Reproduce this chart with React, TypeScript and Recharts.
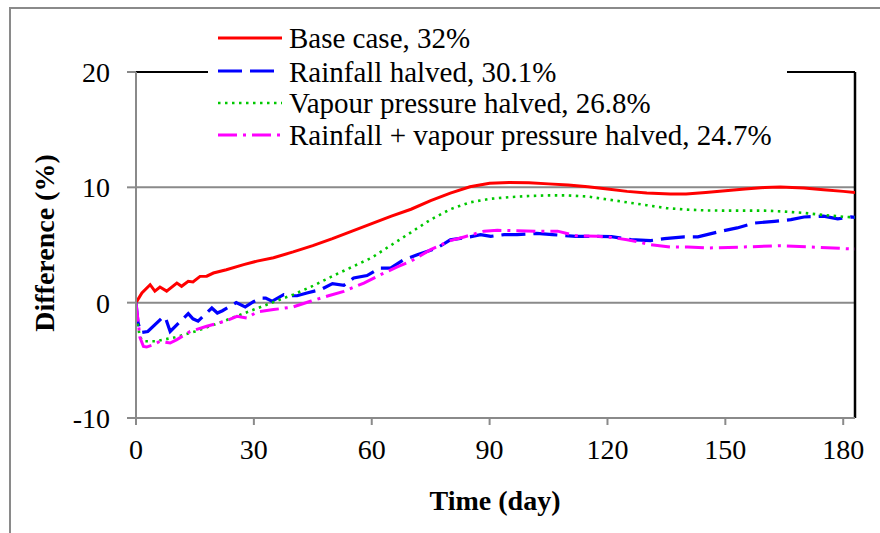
import React from 'react';
import { LineChart, Line, XAxis, YAxis, ReferenceLine, Label } from 'recharts';

// ---- data ----
const xTicks = [0, 30, 60, 90, 120, 150, 180];
const yTicks = [-10, 0, 10, 20];

const seriesNames = [
  'Base case, 32%',
  'Rainfall halved, 30.1%',
  'Vapour pressure halved, 26.8%',
  'Rainfall + vapour pressure halved, 24.7%',
];

const baseDays = [0, 1.5, 3.6, 4.8, 6.1, 7.8, 10.4, 11.6, 13.3, 14.5, 16.3, 18, 19.7, 23, 27.4, 30.8, 35, 40, 45, 50, 55, 60, 65, 70, 75, 80, 85, 90, 95, 100, 105, 110, 115, 120, 125, 130, 136, 140, 145, 150, 155, 160, 164, 170, 175, 180, 183];
const baseValues = [0, 0.85, 1.56, 1.0, 1.36, 1.0, 1.7, 1.42, 1.85, 1.8, 2.28, 2.3, 2.57, 2.86, 3.3, 3.6, 3.9, 4.4, 4.95, 5.55, 6.2, 6.85, 7.5, 8.1, 8.85, 9.5, 10.05, 10.35, 10.42, 10.4, 10.3, 10.2, 10.05, 9.85, 9.65, 9.5, 9.43, 9.43, 9.55, 9.7, 9.85, 9.98, 10.03, 9.95, 9.8, 9.65, 9.55];

const rainDays = [0, 0.5, 1.2, 3, 7, 7.5, 8.7, 13.3, 14.5, 15.8, 19.3, 20.7, 22, 24, 25.5, 27.8, 30, 32, 33, 34.6, 37.6, 39.5, 41, 43.5, 47, 50, 52.9, 55.4, 58.8, 62, 64.8, 68, 71.6, 76.7, 80, 85, 87.7, 90.3, 93.7, 97, 102, 106, 112, 115.8, 121, 126, 131, 134.5, 139.5, 143, 149, 153, 157.4, 162.5, 166.7, 170, 175, 178.6, 182, 183];
const rainValues = [0, -1.7, -2.6, -2.5, -1.2, -1.3, -2.5, -0.95, -1.4, -1.6, -0.46, -0.9, -0.7, -0.3, 0, -0.37, 0.1, 0.4, 0.4, 0.12, 0.7, 0.6, 0.6, 0.84, 1.13, 1.65, 1.5, 2.14, 2.35, 3.0, 3.0, 3.7, 4.15, 4.75, 5.45, 5.7, 5.9, 5.75, 5.9, 5.9, 6.0, 5.9, 5.75, 5.75, 5.72, 5.46, 5.38, 5.55, 5.7, 5.7, 6.2, 6.48, 6.9, 7.05, 7.2, 7.43, 7.5, 7.26, 7.43, 7.4];

const vapourDays = [0, 0.5, 1, 2, 5, 10, 15, 20, 25, 30, 35, 40, 45, 50, 55, 60, 65, 70, 75, 80, 85, 90, 95, 100, 105, 110, 115, 120, 125, 130, 135, 140, 145, 150, 155, 160, 165, 170, 175, 180, 183];
const vapourValues = [0, -2.0, -3.0, -3.35, -3.35, -3.0, -2.5, -1.9, -1.25, -0.6, 0.05, 0.7, 1.45, 2.3, 3.1, 3.9, 5.0, 6.1, 7.2, 8.1, 8.7, 9.0, 9.15, 9.25, 9.3, 9.3, 9.2, 8.95, 8.7, 8.45, 8.2, 8.07, 8.0, 7.98, 7.98, 7.98, 7.9, 7.78, 7.6, 7.45, 7.4];

const bothDays = [0, 1, 1.9, 2.7, 4, 6.1, 8.7, 10.4, 13.8, 18, 22.7, 25.7, 28.2, 30.8, 35, 40, 44.4, 49, 52.9, 58, 61.4, 62.2, 66.5, 69.9, 75, 80, 83.5, 88.6, 92, 97, 102, 107.3, 112, 117.5, 121, 125, 131, 136, 140.4, 145.5, 154.8, 163.4, 171.9, 182, 183];
const bothValues = [0, -3.0, -3.8, -3.85, -3.7, -3.35, -3.5, -3.2, -2.5, -2.05, -1.6, -1.19, -1.33, -0.8, -0.6, -0.37, 0.12, 0.6, 0.98, 1.7, 2.28, 2.43, 3.1, 3.58, 4.6, 5.38, 5.7, 6.2, 6.27, 6.24, 6.2, 6.2, 5.8, 5.75, 5.65, 5.46, 5.03, 4.83, 4.83, 4.74, 4.83, 4.94, 4.83, 4.66, 4.66];

const toData = (days: number[], values: number[]) => days.map((d, i) => ({ day: d, value: values[i] }));

const series = [
  { name: seriesNames[0], data: toData(baseDays, baseValues), color: '#ff0000', dash: undefined as string | undefined, width: 3 },
  { name: seriesNames[1], data: toData(rainDays, rainValues), color: '#0000ff', dash: '24 8', width: 3.2 },
  { name: seriesNames[2], data: toData(vapourDays, vapourValues), color: '#00c800', dash: '2.5 4.5', width: 2.6 },
  { name: seriesNames[3], data: toData(bothDays, bothValues), color: '#ff00ff', dash: '19 6 3 6', width: 3 },
];

const FONT = '"Liberation Serif", "Times New Roman", serif';
const GRAY = '#8a8a8a';

const LegendBox = () => {
  const rows = [
    { lineY: 38, baseY: 48 },
    { lineY: 71, baseY: 82 },
    { lineY: 103, baseY: 113 },
    { lineY: 135, baseY: 145 },
  ];
  return (
    <div style={{ position: 'absolute', left: 208, top: 18, width: 579, height: 136, background: '#ffffff' }}>
      <svg width={579} height={136} style={{ display: 'block' }}>
        {series.map((s, i) => (
          <g key={s.name}>
            <line x1={10} x2={74} y1={rows[i].lineY - 18} y2={rows[i].lineY - 18} stroke={s.color} strokeWidth={s.width} strokeDasharray={s.dash} />
            <text x={81} y={rows[i].baseY - 18} fontFamily={FONT} fontSize={29} fill="#000">{s.name}</text>
          </g>
        ))}
      </svg>
    </div>
  );
};

export default function App() {
  return (
    <div style={{ position: 'absolute', left: 0, top: 0, width: 880, height: 533, background: '#fff', overflow: 'hidden' }}>
      <div style={{ position: 'absolute', left: 9, top: 7, width: 900, height: 600, borderLeft: `2px solid ${GRAY}`, borderTop: `2px solid ${GRAY}` }} />
      <div style={{ position: 'absolute', left: 0, top: 0 }}>
        <LineChart width={880} height={533} margin={{ top: 72, right: 25, bottom: 85, left: 76 }}>
          <XAxis
            type="number"
            dataKey="day"
            domain={[0, 183]}
            ticks={xTicks}
            interval={0}
            allowDataOverflow
            height={30}
            tickSize={7}
            tickMargin={14}
            axisLine={{ stroke: GRAY, strokeWidth: 2 }}
            tickLine={{ stroke: GRAY, strokeWidth: 2 }}
            tick={{ fill: '#000', fontSize: 28, fontFamily: FONT }}
          >
            <Label
              content={() => (
                <text x={495} y={500} textAnchor="middle" dominantBaseline="central" fontFamily={FONT} fontSize={28} fontWeight="bold" fill="#000">
                  Time (day)
                </text>
              )}
            />
          </XAxis>
          <YAxis
            type="number"
            domain={[-10, 20]}
            ticks={yTicks}
            interval={0}
            width={60}
            tickSize={9}
            tickMargin={17}
            axisLine={{ stroke: GRAY, strokeWidth: 2 }}
            tickLine={{ stroke: GRAY, strokeWidth: 2 }}
            tick={{ fill: '#000', fontSize: 28, fontFamily: FONT }}
          >
            <Label
              content={() => (
                <text x={44} y={243} transform="rotate(-90 44 243)" textAnchor="middle" dominantBaseline="central" fontFamily={FONT} fontSize={28} fontWeight="bold" fill="#000">
                  Difference (%)
                </text>
              )}
            />
          </YAxis>
          <ReferenceLine y={10} stroke={GRAY} strokeWidth={2} />
          <ReferenceLine y={0} stroke={GRAY} strokeWidth={2} />
          <ReferenceLine y={20} stroke="#000" strokeWidth={2} />
          <ReferenceLine x={183} stroke="#000" strokeWidth={2.5} />
          {series.map((s) => (
            <Line
              key={s.name}
              data={s.data}
              dataKey="value"
              name={s.name}
              type="linear"
              stroke={s.color}
              strokeWidth={s.width}
              strokeDasharray={s.dash}
              dot={false}
              activeDot={false}
              isAnimationActive={false}
            />
          ))}
        </LineChart>
      </div>
      <LegendBox />
    </div>
  );
}
